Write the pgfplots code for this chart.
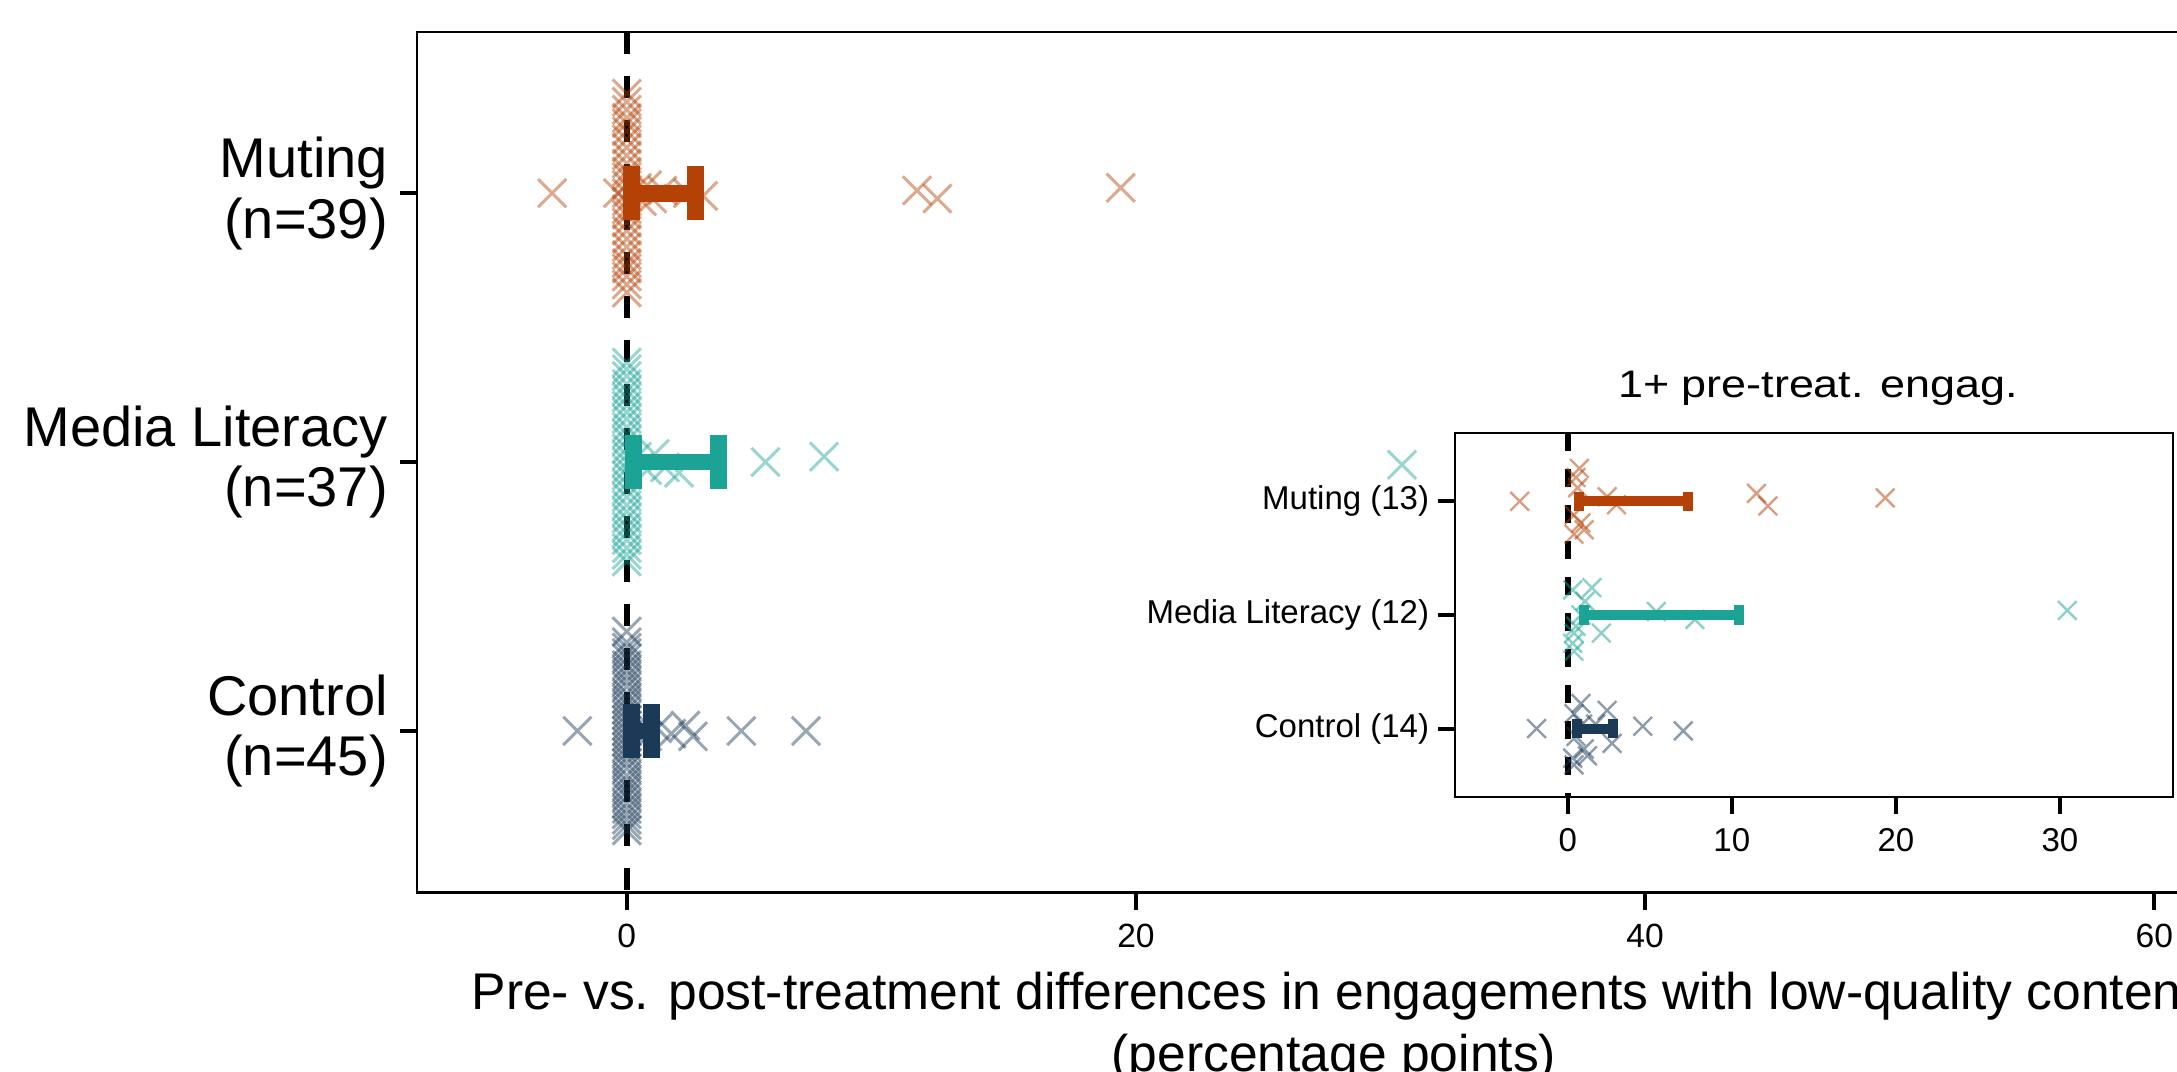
\documentclass[border=0pt]{standalone}
\usepackage{pgfplots}
\pgfplotsset{compat=1.18}
\usepackage{fontspec}
\setmainfont{Liberation Sans}
\usepackage{graphicx}
\definecolor{mut}{RGB}{180,65,5}
\definecolor{med}{RGB}{27,163,150}
\definecolor{con}{RGB}{27,58,88}
\begin{document}
\begin{tikzpicture}
\useasboundingbox (-104.2pt,-44.9pt) rectangle (440.1pt,223.1pt);
\clip (-104.2pt,-44.9pt) rectangle (440.1pt,223.1pt);
% ---------------- main axis ----------------
\begin{axis}[
  at={(0pt,0pt)}, anchor=south west,
  width=458.6pt, height=215.15pt, scale only axis,
  xmin=-8.25, xmax=63.8, ymin=0.4, ymax=3.6,
  xtick={0,20,40,60}, ytick={1,2,3},
  yticklabels={{Control\\(n=45)},{Media Literacy\\(n=37)},{Muting\\(n=39)}},
  yticklabel style={align=right, font=\fontsize{14}{15.2}\selectfont, inner xsep=1pt, xshift=-1.75pt},
  xticklabel style={font=\fontsize{8.4}{10}\selectfont},
  /pgf/number format/assume math mode=true,
  xlabel={Pre- vs. post-treatment differences in engagements with low-quality content\\(percentage points)},
  xlabel style={align=center, font=\fontsize{12.9}{15.4}\selectfont, at={(axis description cs:0.5,0)}, anchor=base, yshift=-44.8pt},
  tick align=outside, xtick pos=bottom, ytick pos=left,
  major tick length=4.3pt,
  tick style={line width=1pt, black},
  axis line style={line width=0.6pt},
]
% points
\addplot[only marks, mark=x, mark size=5pt, mark options={line width=0.75pt, draw=mut, draw opacity=0.45}] coordinates {
(-2.93,3.0) (-0.35,3.0) (0.4,3.02) (0.6,2.97) (0.8,3.03) (1.0,2.98) (1.4,3.01) (2.4,3.0) (3.0,2.99) (11.4,3.01) (12.2,2.98) (19.4,3.02)
(0,2.63) (0,2.66) (0,2.69) (0,2.72) (0,2.74) (0,2.77) (0,2.80) (0,2.83) (0,2.86) (0,2.89) (0,2.92) (0,2.94) (0,2.97) (0,3.00)
(0,3.03) (0,3.06) (0,3.08) (0,3.11) (0,3.14) (0,3.17) (0,3.20) (0,3.23) (0,3.26) (0,3.28) (0,3.31) (0,3.34) (0,3.37)
};
\addplot[only marks, mark=x, mark size=5pt, mark options={line width=0.75pt, draw=med, draw opacity=0.45}] coordinates {
(0.4,2.02) (0.8,1.97) (1.1,2.03) (1.5,1.98) (2.05,1.96) (5.45,2.0) (7.75,2.02) (30.45,1.99)
(0,1.63) (0,1.655) (0,1.68) (0,1.71) (0,1.735) (0,1.76) (0,1.79) (0,1.815) (0,1.84) (0,1.87) (0,1.895) (0,1.92) (0,1.95) (0,1.975) (0,2.0)
(0,2.025) (0,2.05) (0,2.08) (0,2.105) (0,2.13) (0,2.16) (0,2.185) (0,2.21) (0,2.24) (0,2.265) (0,2.29) (0,2.32) (0,2.345) (0,2.37)
};
\addplot[only marks, mark=x, mark size=5pt, mark options={line width=0.75pt, draw=con, draw opacity=0.45}] coordinates {
(-1.94,1.0) (0.4,1.02) (0.8,0.98) (1.2,1.01) (1.75,0.99) (2.3,1.02) (2.6,0.98) (4.5,1.0) (7.04,1.0)
(0,0.63) (0,0.65) (0,0.67) (0,0.69) (0,0.71) (0,0.73) (0,0.755) (0,0.775) (0,0.795) (0,0.815) (0,0.835) (0,0.86) (0,0.88) (0,0.9) (0,0.92) (0,0.94) (0,0.96) (0,0.98)
(0,1.0) (0,1.02) (0,1.04) (0,1.06) (0,1.08) (0,1.1) (0,1.12) (0,1.14) (0,1.165) (0,1.185) (0,1.205) (0,1.225) (0,1.245) (0,1.27) (0,1.29) (0,1.31) (0,1.33) (0,1.37)
};
% error bars
\addplot[mut, line width=4.2pt, line cap=butt] coordinates {(0.2,3) (2.7,3)};
\addplot[only marks, mark=|, mark size=6.67pt, mark options={line width=4.2pt, draw=mut}] coordinates {(0.2,3) (2.7,3)};
\addplot[med, line width=4.2pt, line cap=butt] coordinates {(0.25,2) (3.6,2)};
\addplot[only marks, mark=|, mark size=6.67pt, mark options={line width=4.2pt, draw=med}] coordinates {(0.25,2) (3.6,2)};
\addplot[con, line width=4.2pt, line cap=butt] coordinates {(0.2,1) (0.97,1)};
\addplot[only marks, mark=|, mark size=6.67pt, mark options={line width=4.2pt, draw=con}] coordinates {(0.2,1) (0.97,1)};
% zero line
\addplot[black, line width=1.5pt, dash pattern=on 5.5pt off 5.5pt] coordinates {(0,3.6) (0,0.4)};
\end{axis}
% ---------------- inset ----------------
\begin{axis}[
  at={(259.6pt,23.9pt)}, anchor=south west,
  width=179.5pt, height=90.9pt, scale only axis,
  xmin=-6.87, xmax=36.89, ymin=0.4, ymax=3.6,
  xtick={0,10,20,30}, ytick={1,2,3},
  yticklabels={Control (14),Media Literacy (12),Muting (13)},
  yticklabel style={font=\fontsize{8.25}{9}\selectfont, inner xsep=1pt, xshift=-1pt},
  xticklabel style={font=\fontsize{8.25}{10}\selectfont},
  /pgf/number format/assume math mode=true,
  axis background/.style={fill=white},
  title={\scalebox{1.17}[1]{1+ pre-treat. engag.}},
  title style={font=\fontsize{9.6}{11}\selectfont, at={(0.5,1)}, anchor=base, xshift=1pt, yshift=3pt},
  tick align=outside, xtick pos=bottom, ytick pos=left,
  major tick length=4.3pt,
  tick style={line width=1pt, black},
  axis line style={line width=0.6pt},
]
\addplot[only marks, mark=x, mark size=3.3pt, mark options={line width=0.6pt, draw=mut, draw opacity=0.5}] coordinates {
(-2.93,3.0) (0.71,3.29) (0.5,3.21) (2.4,3.04) (2.97,2.97) (0.38,2.88) (0.8,2.81) (1.0,2.75) (0.38,2.71) (11.5,3.07) (12.2,2.96) (19.35,3.03) (0.6,3.12)
};
\addplot[only marks, mark=x, mark size=3.3pt, mark options={line width=0.6pt, draw=med, draw opacity=0.5}] coordinates {
(0.3,2.22) (1.47,2.24) (1.05,2.12) (0.8,2.0) (5.4,2.03) (7.75,1.96) (2.05,1.84) (0.38,1.84) (0.3,1.75) (0.38,1.68) (30.45,2.04) (0.5,1.9)
};
\addplot[only marks, mark=x, mark size=3.3pt, mark options={line width=0.6pt, draw=con, draw opacity=0.5}] coordinates {
(-1.9,1.0) (0.8,1.22) (0.38,1.13) (2.4,1.16) (1.7,1.04) (2.7,0.87) (1.2,0.76) (0.38,0.68) (0.3,0.74) (4.57,1.02) (7.04,0.98) (0.5,0.93) (1.0,0.82) (0.9,1.04)
};
\addplot[mut, line width=2.5pt, line cap=butt] coordinates {(0.71,3) (7.33,3)};
\addplot[only marks, mark=|, mark size=2.4pt, mark options={line width=2.5pt, draw=mut}] coordinates {(0.71,3) (7.33,3)};
\addplot[med, line width=2.5pt, line cap=butt] coordinates {(1.0,2) (10.43,2)};
\addplot[only marks, mark=|, mark size=2.4pt, mark options={line width=2.5pt, draw=med}] coordinates {(1.0,2) (10.43,2)};
\addplot[con, line width=2.5pt, line cap=butt] coordinates {(0.55,1) (2.77,1)};
\addplot[only marks, mark=|, mark size=2.4pt, mark options={line width=2.5pt, draw=con}] coordinates {(0.55,1) (2.77,1)};
\addplot[black, line width=1.4pt, dash pattern=on 4.5pt off 4.5pt] coordinates {(0,3.6) (0,0.4)};
\end{axis}
\end{tikzpicture}
\end{document}
